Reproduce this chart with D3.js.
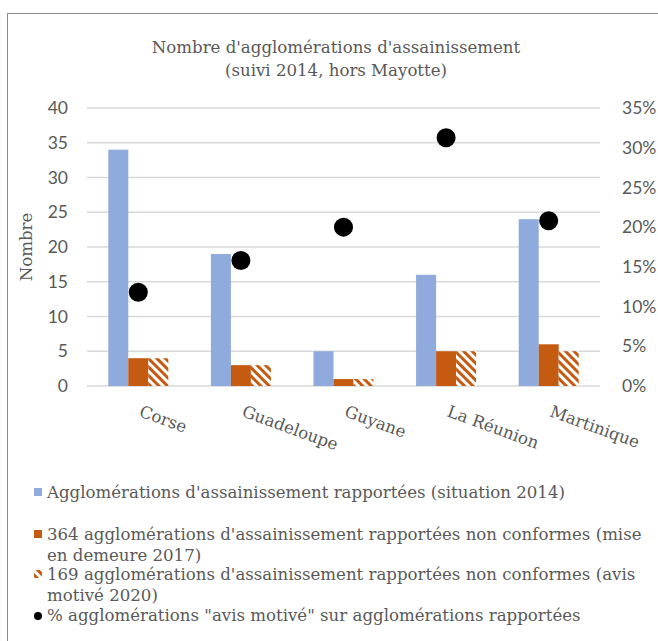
<!DOCTYPE html>
<html><head><meta charset="utf-8">
<script src="https://cdn.jsdelivr.net/npm/d3@7"></script>
<style>body{margin:0;background:#fff}svg{display:block}</style>
</head><body>
<svg id="c" width="658" height="641"></svg>
<script>
const categories = ["Corse","Guadeloupe","Guyane","La Réunion","Martinique"];
const rapportees = [34,19,5,16,24];
const miseEnDemeure = [4,3,1,5,6];
const avisMotive = [4,3,1,5,5];
const pctAvis = [0.118,0.158,0.20,0.3125,0.208];
const leftTicks = [0,5,10,15,20,25,30,35,40];
const rightTicks = [0,0.05,0.10,0.15,0.20,0.25,0.30,0.35];
const seriesNames = ["Agglomérations d'assainissement rapportées (situation 2014)",
  "364 agglomérations d'assainissement rapportées non conformes (mise en demeure 2017)",
  "169 agglomérations d'assainissement rapportées non conformes (avis motivé 2020)",
  "% agglomérations \"avis motivé\" sur agglomérations rapportées"];

const svg = d3.select("#c");
const serif = "'DejaVu Serif', serif";
const sans = "Lato, 'Open Sans', sans-serif";
const grey = "#595959";
const blue = "#8FAADC", orange = "#C55A11";
const fs = 16.6;

const defs = svg.append("defs");
const pat = defs.append("pattern").attr("id","hatch").attr("patternUnits","userSpaceOnUse")
  .attr("width",6).attr("height",6).attr("patternTransform","rotate(-45)");
pat.append("rect").attr("width",6).attr("height",6).attr("fill","#fff");
pat.append("rect").attr("x",0).attr("y",0).attr("width",3).attr("height",6).attr("fill",orange);

// frame
svg.append("rect").attr("x",7.5).attr("y",13.5).attr("width",670).attr("height",660)
  .attr("fill","none").attr("stroke","#8c8c8c").attr("stroke-width",1);

// title
const title = svg.append("text").attr("text-anchor","middle").attr("font-family",serif)
  .attr("font-size",fs).attr("fill",grey);
title.append("tspan").attr("x",336).attr("y",53).text("Nombre d'agglomérations d'assainissement");
title.append("tspan").attr("x",336).attr("y",76).text("(suivi 2014, hors Mayotte)");

const x = d3.scaleBand().domain(categories).range([87,600]);
const xs = d3.scaleBand().domain([0,1,2]).range([-30,30]);
const y = d3.scaleLinear().domain([0,40]).range([386,108]);
const y2 = d3.scaleLinear().domain([0,0.35]).range([386,108]);

// gridlines
svg.append("g").selectAll("line").data(leftTicks).join("line")
  .attr("x1",87).attr("x2",600).attr("y1",d=>y(d)).attr("y2",d=>y(d))
  .attr("stroke","#d9d9d9").attr("stroke-width",1.5);

// left axis
const ga = svg.append("g").attr("transform","translate(68,0)")
  .call(d3.axisLeft(y).tickValues(leftTicks).tickSize(0).tickPadding(0));
ga.select(".domain").remove();
ga.selectAll("text").attr("font-family",sans).attr("font-size",17.5).attr("fill",grey);

const gb = svg.append("g").attr("transform","translate(622,0)")
  .call(d3.axisRight(y2).tickValues(rightTicks).tickFormat(d3.format(".0%")).tickSize(0).tickPadding(0));
gb.select(".domain").remove();
gb.selectAll("text").attr("font-family",sans).attr("font-size",17.5).attr("fill",grey);

// axis title
svg.append("text").attr("transform","translate(32,247) rotate(-90)").attr("text-anchor","middle")
  .attr("font-family",serif).attr("font-size",fs).attr("fill",grey).text("Nombre");

// bars
const series = [rapportees, miseEnDemeure, avisMotive];
const fills = [blue, orange, "url(#hatch)"];
series.forEach((vals,si)=>{
  svg.append("g").selectAll("rect").data(vals).join("rect")
    .attr("x",(d,i)=>x(categories[i])+x.bandwidth()/2+xs(si))
    .attr("width",xs.bandwidth())
    .attr("y",d=>y(d)).attr("height",d=>y(0)-y(d))
    .attr("fill",fills[si]);
});

// category labels
svg.append("g").selectAll("text").data(categories).join("text")
  .attr("transform",d=>`translate(${x(d)+x.bandwidth()/2},${416}) rotate(20)`)
  .attr("font-family",serif).attr("font-size",fs).attr("fill",grey).text(d=>d);

// dots
svg.append("g").selectAll("circle").data(pctAvis).join("circle")
  .attr("cx",(d,i)=>x(categories[i])+x.bandwidth()/2).attr("cy",d=>y2(d))
  .attr("r",9.5).attr("fill","#000");

// legend
const lg = svg.append("g").attr("font-family",serif).attr("font-size",fs).attr("fill",grey);
const legendRows = [
  {lines:[seriesNames[0]], y:498},
  {lines:["364 agglomérations d'assainissement rapportées non conformes (mise","en demeure 2017)"], y:540},
  {lines:["169 agglomérations d'assainissement rapportées non conformes (avis","motivé 2020)"], y:580},
  {lines:[seriesNames[3]], y:621}
];
legendRows.forEach((r,i)=>{
  const t = lg.append("text").attr("y",r.y);
  r.lines.forEach((l,j)=>t.append("tspan").attr("x",47).attr("dy",j?21:0).text(l));
  if(i<3){
    lg.append("rect").attr("x",34).attr("y",r.y-10).attr("width",8).attr("height",8).attr("fill",fills[i]);
  } else {
    lg.append("circle").attr("cx",38).attr("cy",r.y-5).attr("r",4).attr("fill","#000");
  }
});
</script>
</body></html>
